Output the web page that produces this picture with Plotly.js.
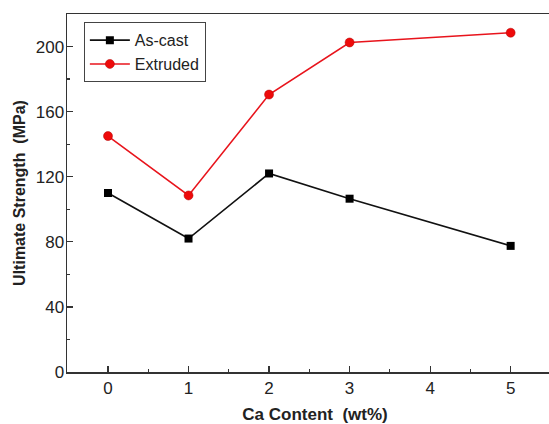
<!DOCTYPE html>
<html>
<head>
<meta charset="utf-8">
<script src="https://cdn.plot.ly/plotly-3.0.1.min.js"></script>
<style>html,body{margin:0;padding:0;background:#fff;overflow:hidden;width:549px;height:424px;}#chart{width:563px;height:424px;}</style>
</head>
<body>
<div id="chart"></div>
<script>
const caContent = [0, 1, 2, 3, 5];
const asCast = [110, 82, 122, 106.5, 77.5];
const extruded = [145, 108.5, 170.5, 202.5, 208.5];
const xTicks = [0, 1, 2, 3, 4, 5];
const yTicks = [0, 40, 80, 120, 160, 200];

const traces = [
  {x: caContent, y: asCast, name: 'As-cast', mode: 'lines+markers', type: 'scatter',
   line: {color: '#111', width: 1.6},
   marker: {symbol: 'square', size: 8, color: '#000'}},
  {x: caContent, y: extruded, name: 'Extruded', mode: 'lines+markers', type: 'scatter',
   line: {color: '#e8141c', width: 1.6},
   marker: {symbol: 'circle', size: 9, color: '#ee0a0a', line: {color: '#b00000', width: 0.5}}}
];

const FAM = 'Arial, Liberation Sans, sans-serif';
const axisFont = {family: FAM, size: 17, color: '#222'};
const layout = {
  width: 563, height: 424,
  margin: {l: 67, r: 0, t: 14, b: 52},
  paper_bgcolor: '#fff', plot_bgcolor: '#fff',
  showlegend: true,
  legend: {x: 0.034, y: 0.977, xanchor: 'left', yanchor: 'top',
    bgcolor: '#fff', bordercolor: '#444', borderwidth: 1,
    font: {family: FAM, size: 16, color: '#222'},
    tracegroupgap: 0, itemwidth: 40},
  xaxis: {range: [-0.509, 5.65], tickvals: xTicks, ticktext: xTicks.map(String),
    ticks: 'inside', ticklen: 6, tickwidth: 1.2, tickcolor: '#333',
    minor: {ticks: 'inside', dtick: 0.5, tick0: 0, ticklen: 3, tickwidth: 1.2, tickcolor: '#333'},
    showline: true, linecolor: '#333', linewidth: 1.5, mirror: true,
    showgrid: false, zeroline: false, tickfont: axisFont,
    title: {text: 'Ca Content\u00a0 (wt%)', font: {family: FAM, size: 17, color: '#222', weight: 'bold'}, standoff: 18}},
  yaxis: {range: [0, 220], tickvals: yTicks, ticktext: yTicks.map(String),
    ticks: 'inside', ticklen: 6, tickwidth: 1.2, tickcolor: '#333',
    minor: {ticks: 'inside', dtick: 20, tick0: 0, ticklen: 3, tickwidth: 1.2, tickcolor: '#333'},
    showline: true, linecolor: '#333', linewidth: 1.5, mirror: false,
    showgrid: false, zeroline: false, tickfont: axisFont, ticklabelstandoff: -2,
    title: {text: 'Ultimate Strength\u00a0 (MPa)', font: {family: FAM, size: 16, color: '#222', weight: 'bold'}, standoff: 6}}
};

Plotly.newPlot('chart', traces, layout, {displayModeBar: false, staticPlot: true});
</script>
</body>
</html>
